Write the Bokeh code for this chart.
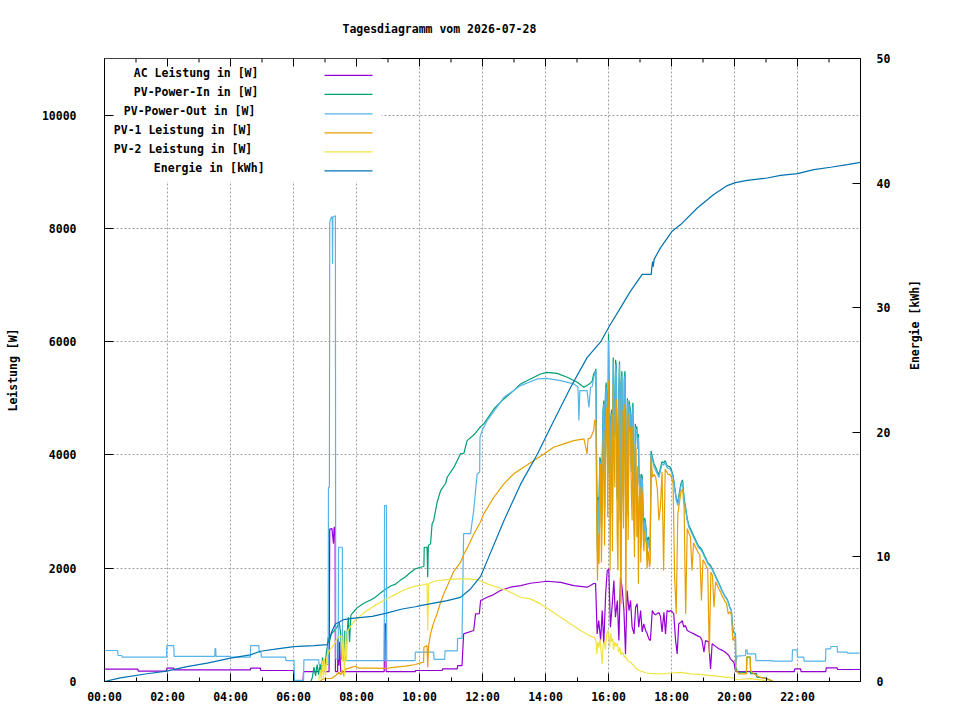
import math
from bokeh.plotting import figure
from bokeh.models import Range1d, LinearAxis, FixedTicker, Label
from bokeh.embed import file_html
from bokeh.resources import INLINE

# ---------------- data (time in hours, power in W, energy in kWh) ----------------
title_text = "Tagesdiagramm vom 2026-07-28"
x_ticks = [0, 2, 4, 6, 8, 10, 12, 14, 16, 18, 20, 22]
x_minor = [0, 1, 2, 3, 4, 5, 6, 7, 8, 9, 10, 11, 12, 13, 14, 15, 16, 17, 18, 19, 20, 21, 22, 23, 24]
x_labels = ["00:00", "02:00", "04:00", "06:00", "08:00", "10:00", "12:00",
            "14:00", "16:00", "18:00", "20:00", "22:00"]
y_ticks = [0, 2000, 4000, 6000, 8000, 10000]
y2_ticks = [0, 10, 20, 30, 40, 50]

series_names = ["AC Leistung in [W]", "PV-Power-In in [W]", "PV-Power-Out in [W]",
                "PV-1 Leistung in [W]", "PV-2 Leistung in [W]", "Energie in [kWh]"]
series_colors = ["#9400D3", "#009E73", "#56B4E9", "#E69F00", "#F0E442", "#0072B2"]

# AC Leistung (purple)
ac_t = [0.0, 1.06, 1.07, 1.97, 1.98, 2.20, 2.21, 4.63, 4.64, 4.95, 4.96, 6.00, 6.02, 6.30, 6.32,
        7.13, 7.14, 7.15, 7.22, 7.27, 7.29, 7.32, 7.33, 7.40, 7.41, 7.44, 7.46, 7.50, 8.88, 8.89,
        8.93, 8.94, 9.87, 9.88, 10.72, 10.73, 11.20, 11.21, 11.35, 11.40, 11.72, 11.78, 11.90,
        11.94, 12.15, 12.30, 12.57, 12.89, 13.21, 13.52, 14.05, 14.48, 14.90, 15.10, 15.32, 15.43,
        15.53, 15.59,
        15.64, 15.69, 15.75, 15.80, 15.85, 15.91, 15.96, 16.01, 16.06, 16.12, 16.17, 16.22, 16.28,
        16.33, 16.38, 16.43, 16.49, 16.54, 16.59, 16.65, 16.70, 16.75, 16.81, 16.86, 16.91, 16.96,
        17.02, 17.07, 17.12, 17.18, 17.23, 17.28, 17.33, 17.39, 17.44, 17.49, 17.55, 17.60, 17.65,
        17.70, 17.76, 17.81, 17.86, 17.92, 17.97, 18.02, 18.07, 18.13, 18.18, 18.23, 18.29, 18.34,
        18.39, 18.44, 18.50, 18.60, 18.71, 18.81, 18.92, 18.97, 19.03, 19.08, 19.18, 19.24, 19.29,
        19.40, 19.50, 19.61, 19.71, 19.82, 19.87, 19.92, 19.98, 20.03, 20.05, 21.90, 21.91, 22.10,
        22.11, 22.90, 22.91, 23.26, 23.27, 24.0]
ac_w = [218, 218, 182, 182, 235, 235, 206, 206, 235, 235, 194, 194, 10, 10, 176,
        176, 1200, 2690, 2700, 2435, 2720, 2720, 176, 176, 776, 282, 700, 176, 176, 1018,
        1018, 176, 176, 194, 194, 223, 223, 282, 282, 841, 900, 1194, 1200,
        1430, 1488, 1520, 1606, 1665, 1694, 1735, 1770, 1750, 1694, 1680, 1665, 1694,
        1730, 1730,
        841, 1076, 723, 1253, 665, 1547, 1959, 1989, 959, 1371, 1783, 1135, 1429,
        723, 1841, 1665, 1253, 488, 1606, 1253, 1430, 959, 841, 1312, 1371, 959,
        1253, 876, 1018, 900, 841, 753, 723, 1253, 1200, 1180, 1200, 1220, 1150,
        876, 1220, 841, 1253, 1230, 1253, 1230, 1200, 723, 488, 1018, 1040, 1076,
        960, 990, 900, 870, 841, 810, 782, 724, 517, 724, 700, 223, 665,
        620, 577, 550, 517, 460, 400, 370, 341, 194, 176, 176, 223, 223,
        176, 176, 241, 241, 212, 212]

# PV-Power-In (green), daytime up to 15.59 h
pvin_t = [0.0, 6.55, 6.60, 6.65, 6.70, 6.75, 6.80, 6.85, 6.88, 6.92, 6.96, 7.00, 7.04, 7.07,
          7.10, 7.15, 7.20, 7.30, 7.38, 7.45, 7.50, 7.53, 7.56, 7.60, 7.63, 7.66, 7.70, 7.74,
          7.78, 7.82, 7.86, 7.92, 8.02, 8.15, 8.29, 8.45, 8.60, 8.75, 8.92, 9.10, 9.24, 9.40,
          9.56, 9.70, 9.87, 10.03, 10.14, 10.15, 10.24, 10.26, 10.28, 10.35, 10.40, 10.45, 10.56,
          10.67, 10.83, 10.88, 11.09, 11.30, 11.41, 11.51, 11.73, 11.92, 12.04, 12.36, 12.68,
          12.99, 13.21, 13.52, 13.84, 14.05, 14.37, 14.69, 15.01, 15.22, 15.38, 15.48, 15.53, 15.59]
pvin_w = [0, 0, 76, 253, 100, 300, 120, 312, 150, 429, 200, 250, 500, 605,
          782, 720, 841, 900, 959, 1047, 841, 400, 370, 488, 900, 370, 841, 1135,
          700, 1165, 1200, 1240, 1300, 1350, 1400, 1440, 1488, 1560, 1630, 1690, 1720, 1790,
          1850, 1920, 1990, 2017, 2030, 2370, 2370, 1841, 2400, 2430, 2783, 2841, 3165,
          3371, 3500, 3606, 3780, 4018, 4030, 4253, 4356, 4489, 4548, 4812, 4989,
          5136, 5254, 5342, 5430, 5459, 5440, 5371, 5283, 5195, 5250, 5300, 5430, 5489]

# PV-Power-Out (light blue), up to 15.59 h
pvout_t = [0.00, 0.42, 0.43, 0.55, 0.56, 1.97, 1.98, 2.20, 2.21, 3.50, 3.51, 3.53, 3.54, 4.00,
           4.01, 4.63, 4.64, 4.90, 4.91, 4.97, 4.98, 5.75, 5.76, 6.02, 6.03, 6.32, 6.33, 6.80,
           6.81, 7.10, 7.11, 7.14, 7.15, 7.20, 7.23, 7.24, 7.25, 7.33, 7.34, 7.42, 7.43, 7.55,
           7.56, 8.88, 8.89, 8.95, 8.96, 9.86, 9.87, 10.45, 10.46, 10.80, 10.81, 11.20, 11.21,
           11.35, 11.40, 11.62, 11.72, 11.83, 11.91, 11.92, 11.99, 12.15, 12.68, 13.21, 13.74,
           14.05, 14.48, 14.90, 15.03, 15.06, 15.09, 15.32, 15.38, 15.43, 15.48, 15.53, 15.59]
pvout_w = [547, 547, 459, 459, 430, 430, 635, 635, 443, 443, 582, 582, 443, 443,
           430, 430, 635, 635, 517, 517, 430, 430, 370, 370, 20, 20, 383, 383,
           300, 300, 3430, 3430, 8107, 8200, 8200, 7378, 8200, 8225, 400, 400, 2370, 2370,
           370, 370, 3106, 3106, 370, 370, 517, 517, 390, 390, 540, 540, 760,
           760, 2612, 2612, 3018, 3665, 3700, 4312, 4430, 4607, 5018, 5224, 5342,
           5353, 5312, 5254, 5200, 4607, 5136, 5136, 4841, 5195, 5200, 5371, 5480]

# PV-1 Leistung (orange), up to 15.59 h
pv1_t = [0.0, 6.85, 6.90, 7.00, 7.20, 7.34, 7.44, 7.50, 7.55, 7.60, 7.65, 7.70, 7.86, 7.97,
         8.08, 8.50, 8.92, 9.24, 9.56, 9.87, 10.03, 10.13, 10.14, 10.24, 10.26, 10.29, 10.35,
         10.45, 10.56, 10.67, 10.77, 10.88, 11.09, 11.30, 11.41, 11.51, 11.72, 11.92, 12.04,
         12.36, 12.68, 12.99, 13.31, 13.63, 13.95, 14.26, 14.58, 14.90, 15.22, 15.32, 15.35,
         15.43, 15.53, 15.56]
pv1_w = [0, 0, 30, 53, 53, 106, 165, 120, 200, 90, 223, 223, 253, 270,
         235, 235, 230, 253, 270, 300, 330, 340, 605, 635, 250, 635, 841,
         1040, 1200, 1400, 1548, 1680, 1950, 2100, 2250, 2350, 2600, 2800, 2960,
         3253, 3489, 3666, 3783, 3901, 4018, 4136, 4195, 4254, 4283, 4018, 4283,
         4300, 4430, 4607]

# afternoon / evening samples shared by PV-Power-In, PV-Power-Out and PV-1
pm_t = [15.60, 15.65, 15.70, 15.75, 15.80, 15.85, 15.90, 15.95, 16.00, 16.05, 16.10, 16.15,
        16.20, 16.25, 16.30, 16.35, 16.40, 16.45, 16.50, 16.55, 16.60, 16.65, 16.70, 16.75,
        16.80, 16.85, 16.90, 16.95, 17.00, 17.05, 17.10, 17.15, 17.20, 17.25, 17.30, 17.35,
        17.40, 17.45, 17.50, 17.55, 17.60, 17.65, 17.70, 17.75, 17.80, 17.85, 17.90, 17.95,
        18.00, 18.05, 18.10, 18.15, 18.20, 18.25, 18.30, 18.35, 18.40, 18.45, 18.50, 18.55,
        18.60, 18.65, 18.70, 18.75, 18.80, 18.85, 18.90, 18.95, 19.00, 19.05, 19.10, 19.15,
        19.20, 19.25, 19.30, 19.35, 19.40, 19.45, 19.50, 19.55, 19.60, 19.65, 19.70, 19.75,
        19.80, 19.85, 19.90, 19.95, 20.00]
pvout_pm = [5480, 2253, 3080, 3840, 3780, 4900, 4960, 4960, 6020, 3500, 4725, 5660,
            4310, 5490, 3900, 5600, 5200, 3600, 5300, 3000, 4960, 4900, 4725, 4607,
            3400, 4490, 4430, 4310, 3607, 3607, 2850, 2842, 2607, 2489, 2312, 4018,
            3901, 3783, 3725, 3665, 3600, 3725, 3842, 3820, 3872, 3783, 3760, 3754,
            3695, 3600, 3400, 3200, 3107, 3300, 3450, 3519, 3195, 3018, 2842, 2725,
            2666, 2607, 2548, 2489, 2430, 2372, 2342, 2313, 2254, 2195, 2140, 2077,
            2048, 2018, 1960, 1901, 1840, 1783, 1724, 1665, 1600, 1548, 1490, 1460,
            1400, 1300, 1254, 900, 842]
pvin_pm = [5520, 2300, 3150, 3900, 3850, 4960, 5050, 5050, 6140, 3560, 4800, 5720,
           4380, 5560, 3960, 5650, 5270, 3660, 5350, 3060, 5000, 4960, 4790, 4660,
           3450, 4550, 4500, 4370, 3660, 3660, 2900, 2890, 2660, 2540, 2360, 4070,
           3950, 3830, 3780, 3710, 3650, 3770, 3880, 3860, 3900, 3820, 3800, 3790,
           3730, 3640, 3440, 3240, 3150, 3340, 3490, 3560, 3230, 3060, 2880, 2760,
           2700, 2640, 2580, 2520, 2460, 2400, 2370, 2340, 2280, 2220, 2165, 2100,
           2070, 2040, 1980, 1920, 1860, 1800, 1740, 1680, 1615, 1560, 1500, 1470,
           1410, 1310, 1260, 910, 850]
pv1_pm = [4620, 1783, 2077, 3842, 2842, 4430, 3700, 4842, 5313, 1960, 4725, 5254,
          3430, 4960, 1960, 5000, 1371, 3500, 4700, 1253, 4842, 4725, 4490, 2842,
          3300, 4195, 2548, 1724, 3430, 3430, 2548, 2660, 2430, 2200, 2018, 3960,
          3607, 3660, 3600, 3400, 2842, 3100, 3700, 1960, 3750, 3700, 3650, 3660,
          3600, 3500, 1843, 1195, 2950, 3150, 3350, 3400, 3080, 1195, 2700, 2620,
          2560, 1960, 2450, 2390, 2330, 2270, 2240, 1430, 2150, 2100, 2040, 1980,
          489, 1930, 1870, 1312, 1760, 1700, 1640, 1590, 1520, 1470, 1410, 1380,
          1195, 1230, 1180, 724, 780]

# extra readings in the most fluctuating stretch (15.6 h - 17.35 h)
pm2_t = [15.625, 15.675, 15.725, 15.775, 15.825, 15.875, 15.925, 15.975, 16.025, 16.075,
         16.125, 16.175, 16.225, 16.275, 16.325, 16.375, 16.425, 16.475, 16.525, 16.575,
         16.625, 16.675, 16.725, 16.775, 16.825, 16.875, 16.925, 16.975, 17.025, 17.075,
         17.125, 17.175, 17.225, 17.275, 17.325]
pvout_pm2 = [3500, 3200, 3900, 2700, 4700, 3000, 5200, 3600, 5000, 4600,
             2900, 4700, 5600, 3200, 5000, 2800, 5400, 3200, 5400, 4000,
             2900, 4800, 3700, 4850, 2500, 4400, 4100, 3450, 2350, 3550,
             2550, 2750, 2200, 2500, 2300]
pvin_pm2 = [3560, 3260, 3960, 2760, 4770, 3060, 5280, 3660, 5080, 4670,
            2960, 4780, 5680, 3260, 5070, 2860, 5480, 3260, 5480, 4060,
            2960, 4870, 3760, 4920, 2560, 4460, 4160, 3510, 2400, 3610,
            2600, 2800, 2250, 2550, 2350]
pv1_pm2 = [3000, 2600, 3300, 2100, 4100, 2400, 4600, 2900, 4300, 3900,
           2300, 4100, 5000, 2600, 4400, 2300, 4800, 2700, 4900, 3600,
           2500, 4400, 3300, 4500, 2200, 4100, 3800, 3200, 2100, 3300,
           2300, 2500, 1990, 2300, 2100]

# evening tails
pvout_ev_t = [20.03, 20.04, 20.08, 20.35, 20.36, 20.40, 20.41, 20.67, 20.68, 21.20, 21.21,
              21.83, 21.84, 21.99, 22.00, 22.20, 22.21, 22.89, 22.90, 23.05, 23.06, 23.26,
              23.27, 23.58, 23.59, 24.0]
pvout_ev_w = [842, 312, 447, 459, 559, 559, 488, 488, 370, 370, 359,
              359, 559, 559, 429, 429, 359, 359, 577, 577, 618, 618,
              517, 517, 500, 500]
pvin_ev_t = [20.03, 20.04, 20.10, 20.38, 20.39, 20.50, 20.51, 20.70, 20.71, 21.00, 21.22, 24.0]
pvin_ev_w = [850, 250, 165, 160, 430, 430, 140, 140, 76, 60, 0, 0]
pv1_ev_t = [20.03, 20.04, 20.10, 20.14, 20.38, 20.39, 20.50, 20.51, 20.60, 20.80, 21.00,
            21.20, 21.22, 24.0]
pv1_ev_w = [780, 200, 165, 135, 135, 430, 430, 194, 140, 76, 50, 10, 0, 0]

# PV-2 Leistung (yellow)
pv2_t = [0.0, 6.80, 6.85, 6.88, 6.92, 6.95, 6.98, 7.02, 7.06, 7.10, 7.14, 7.30, 7.41, 7.52,
         7.55, 7.58, 7.62, 7.65, 7.68, 7.72, 7.94, 8.25, 8.57, 8.89, 9.21, 9.52, 9.84, 10.05,
         10.24, 10.26, 10.29, 10.56, 10.88, 11.20, 11.51, 11.83, 12.15, 12.47, 12.78, 12.99,
         13.21, 13.52, 13.84, 14.16, 14.48, 14.79, 15.11, 15.43, 15.55, 15.60, 15.63, 15.66,
         15.70, 15.73, 15.76, 15.80, 15.83, 15.87, 15.90, 15.94, 15.98, 16.01, 16.04, 16.07,
         16.10, 16.13, 16.16, 16.20, 16.24, 16.28, 16.32, 16.36, 16.40, 16.45, 16.50, 16.55,
         16.60, 16.70, 16.80, 16.90, 17.00, 17.20, 17.50, 17.80, 18.00, 18.30, 18.60, 19.00,
         19.50, 19.90, 20.03, 20.20, 20.50, 20.80, 21.00, 21.05, 24.0]
pv2_w = [0, 0, 200, 30, 370, 60, 400, 100, 430, 500, 547, 665, 782, 800,
         350, 820, 90, 850, 370, 900, 1070, 1220, 1340, 1440, 1530, 1620, 1680, 1700,
         1724, 900, 1730, 1783, 1800, 1812, 1812, 1800, 1724, 1665, 1606, 1548,
         1488, 1459, 1371, 1253, 1135, 1018, 900, 800, 780, 724, 488, 700,
         600, 750, 560, 312, 650, 700, 560, 812, 900, 812, 600, 850,
         700, 760, 560, 700, 620, 680, 520, 600, 470, 520, 430, 440,
         370, 340, 280, 220, 190, 150, 135, 140, 150, 160, 135, 120,
         90, 70, 35, 40, 50, 30, 15, 0, 0]

# Energie (dark blue, kWh on right axis)
en_t = [0.0, 0.50, 1.35, 1.97, 2.62, 3.26, 4.00, 4.63, 4.95, 5.48, 6.01, 6.65, 7.07, 7.23,
        7.33, 7.44, 7.60, 7.86, 8.50, 8.92, 9.45, 9.87, 10.03, 10.88, 11.30, 11.62, 11.94,
        12.15, 12.68, 13.21, 13.74, 14.26, 14.79, 15.32, 15.75, 16.03, 16.38, 16.70, 17.07,
        17.36, 17.37, 17.40, 17.42, 17.45, 17.65, 18.02, 18.29, 18.82, 19.34, 19.77, 20.03,
        20.40, 21.04, 21.46, 22.00, 22.52, 23.05, 23.58, 24.0]
en_kwh = [0.0, 0.29, 0.62, 0.83, 1.20, 1.47, 1.87, 2.14, 2.43, 2.62, 2.80, 2.88, 2.96, 4.09,
          4.62, 4.75, 4.97, 5.07, 5.23, 5.47, 5.82, 6.00, 6.09, 6.49, 6.75, 7.43, 8.43,
          9.70, 12.90, 15.84, 18.24, 20.91, 23.58, 25.99, 27.25, 28.53, 29.99, 31.33, 32.67,
          32.67, 33.10, 33.70, 33.30, 33.90, 34.80, 36.14, 36.67, 38.00, 39.08, 39.80, 40.04,
          40.22, 40.41, 40.62, 40.76, 41.08, 41.27, 41.48, 41.67]


def join(*parts):
    """Concatenate (times, values) pieces and order them by time."""
    pairs = []
    for ts, vs in parts:
        pairs.extend(zip(ts, vs))
    pairs.sort(key=lambda tv: tv[0])
    return [tv[0] for tv in pairs], [tv[1] for tv in pairs]


pvin_all = join((pvin_t, pvin_w), (pm_t, pvin_pm), (pm2_t, pvin_pm2), (pvin_ev_t, pvin_ev_w))
pvout_all = join((pvout_t, pvout_w), (pm_t, pvout_pm), (pm2_t, pvout_pm2), (pvout_ev_t, pvout_ev_w))
pv1_all = join((pv1_t, pv1_w), (pm_t, pv1_pm), (pm2_t, pv1_pm2), (pv1_ev_t, pv1_ev_w))

# ---------------- figure ----------------
FONT = "DejaVu Sans Mono"
FS = "11.5px"
Y_MAX = 11000
FRAME_L, FRAME_T, FRAME_W, FRAME_H = 104, 57, 756, 624

p = figure(width=952, height=712, x_range=Range1d(0, 24), y_range=Range1d(0, Y_MAX),
           output_backend="svg", toolbar_location=None,
           min_border_left=FRAME_L, min_border_right=952 - FRAME_L - FRAME_W,
           min_border_top=FRAME_T, min_border_bottom=712 - FRAME_T - FRAME_H,
           background_fill_color="white", border_fill_color="white")
p.extra_y_ranges = {"energy": Range1d(0, 50)}
p.outline_line_color = "black"
p.outline_line_width = 1
p.outline_line_alpha = 1.0

p.title.text = title_text
p.title.align = "left"
p.title.offset = 238
p.title.vertical_align = "top"
p.title.standoff = 42
p.title.text_font = FONT
p.title.text_font_size = FS
p.title.text_font_style = "bold"
p.title.text_color = "black"


def style_axis(ax, tick_in=8, minor_in=4):
    ax.axis_line_color = "black"
    ax.major_tick_line_color = "black"
    ax.minor_tick_line_color = "black"
    ax.major_tick_in = tick_in
    ax.major_tick_out = 0
    ax.minor_tick_in = minor_in
    ax.minor_tick_out = 0
    ax.major_label_text_font = FONT
    ax.major_label_text_font_size = FS
    ax.major_label_text_font_style = "bold"
    ax.major_label_text_color = "black"
    ax.axis_label_text_font = FONT
    ax.axis_label_text_font_size = FS
    ax.axis_label_text_font_style = "bold"
    ax.axis_label_text_color = "black"


xa = p.xaxis[0]
xa.ticker = FixedTicker(ticks=x_ticks, minor_ticks=x_minor)
xa.major_label_overrides = {t: lab for t, lab in zip(x_ticks, x_labels)}
style_axis(xa)
xa.major_label_standoff = 8

ya = p.yaxis[0]
ya.ticker = FixedTicker(ticks=y_ticks, minor_ticks=[])
style_axis(ya, tick_in=9)
ya.major_label_standoff = 28
ya.axis_label = "Leistung [W]"
ya.axis_label_standoff = 19

ra = LinearAxis(y_range_name="energy", ticker=FixedTicker(ticks=y2_ticks, minor_ticks=[]))
style_axis(ra)
ra.major_label_standoff = 16
ra.axis_label = "Energie [kWh]"
ra.axis_label_standoff = 22
ra.axis_label_orientation = math.pi / 2
p.add_layout(ra, "right")

for g in (p.xgrid[0], p.ygrid[0]):
    g.grid_line_color = "#a0a0a0"
    g.grid_line_dash = "2 2"
    g.grid_line_width = 1

# pixel layout -> data space helpers (for key box, key samples and mirrored top ticks)
def px_h(px):
    return (px - FRAME_L) * 24 / FRAME_W

def py_w(py):
    return (FRAME_T + FRAME_H - py) * Y_MAX / FRAME_H

W_PER_PX = Y_MAX / FRAME_H

# opaque key area in the top-left corner
p.quad(left=0, right=px_h(381), bottom=py_w(180), top=Y_MAX,
       fill_color="white", line_color=None)

# mirrored x ticks on the top border
top_x = [t for t in x_minor if 0 < t < 24]
top_len = [(8 if t % 2 == 0 else 4) * W_PER_PX for t in top_x]
p.segment(x0=top_x, x1=top_x, y0=[Y_MAX] * len(top_x), y1=[Y_MAX - d for d in top_len],
          line_color="black", line_width=1)

LW = 1.2
p.line(ac_t, ac_w, line_color=series_colors[0], line_width=LW)
p.line(pvin_all[0], pvin_all[1], line_color=series_colors[1], line_width=LW)
p.line(pvout_all[0], pvout_all[1], line_color=series_colors[2], line_width=LW)
p.line(pv1_all[0], pv1_all[1], line_color=series_colors[3], line_width=LW)
p.line(pv2_t, pv2_w, line_color=series_colors[4], line_width=LW)
p.line(en_t, en_kwh, line_color=series_colors[5], line_width=LW, y_range_name="energy")

# key entries: text on the left, line sample on the right
row_px = [74, 93, 112.5, 131.5, 150.5, 169.5]
text_left_px = [133.3, 133.3, 123.3, 113.3, 113.3, 153.3]
for name, col, ry, tx in zip(series_names, series_colors, row_px, text_left_px):
    p.segment(x0=px_h(324), x1=px_h(372), y0=py_w(ry), y1=py_w(ry),
              line_color=col, line_width=LW)
    p.add_layout(Label(x=tx - FRAME_L, y=FRAME_T + FRAME_H - (ry - 2),
                       x_units="screen", y_units="screen",
                       text=name, text_align="left", text_baseline="middle",
                       text_font=FONT, text_font_size=FS, text_font_style="bold",
                       text_color="black"))

open("out.html", "w").write(file_html(p, INLINE))
